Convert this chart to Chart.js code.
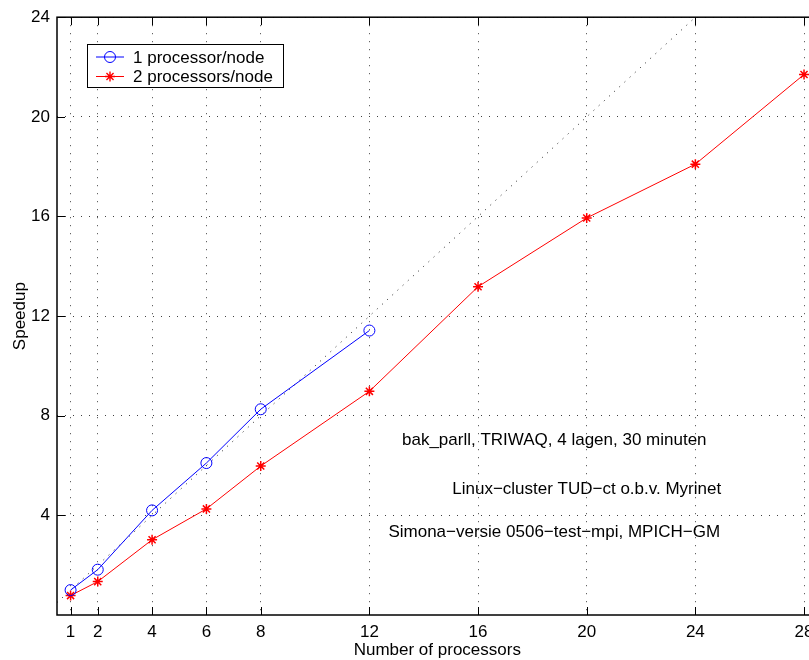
<!DOCTYPE html>
<html>
<head>
<meta charset="utf-8">
<title>Speedup</title>
<script src="https://cdn.jsdelivr.net/npm/chart.js@4.4.1/dist/chart.umd.min.js"></script>
<style>
  html, body { margin: 0; padding: 0; background: #fff; overflow: hidden; }
  #wrap { width: 830px; height: 660px; }
</style>
</head>
<body>
<div id="wrap"><canvas id="speedup" width="830" height="660"></canvas></div>
<script>
// measured speedups
const procs1 = [1, 2, 4, 6, 8, 12];
const speedup1 = [1.0, 1.82, 4.2, 6.1, 8.26, 11.42];
const procs2 = [1, 2, 4, 6, 8, 12, 16, 20, 24, 28];
const speedup2 = [0.78, 1.34, 3.02, 4.26, 5.98, 8.98, 13.18, 15.94, 18.1, 21.7];
// ideal (linear) speedup
const idealX = [0.5, 24];
const idealY = [0.5, 24];

const xTicks = [1, 2, 4, 6, 8, 12, 16, 20, 24, 28];
const yTicks = [4, 8, 12, 16, 20, 24];

const seriesNames = ['1 processor/node', '2 processors/node'];
const notes = [
  { x: 13.2, y: 7.0, text: 'bak_parll, TRIWAQ, 4 lagen, 30 minuten' },
  { x: 15.05, y: 5.05, text: 'Linux\u2212cluster TUD\u2212ct o.b.v. Myrinet' },
  { x: 12.7, y: 3.3, text: 'Simona\u2212versie 0506\u2212test\u2212mpi, MPICH\u2212GM' }
];

const FONT = '"Liberation Sans", Arial, Helvetica, sans-serif';
Chart.defaults.font.family = FONT;
Chart.defaults.font.size = 17;
Chart.defaults.color = '#000';

const toPoints = (xs, ys) => xs.map((x, i) => ({ x: x, y: ys[i] }));

// box, inward ticks, legend, notes and axis titles
const matlabFrame = {
  id: 'matlabFrame',
  afterDraw(chart) {
    const ctx = chart.ctx;
    const a = chart.chartArea;
    const xs = chart.scales.x, ys = chart.scales.y;
    ctx.save();
    ctx.strokeStyle = '#000';
    ctx.lineWidth = 1;
    ctx.beginPath();
    xTicks.forEach(v => {
      const px = Math.round(xs.getPixelForValue(v)) + 0.5;
      ctx.moveTo(px, a.bottom); ctx.lineTo(px, a.bottom - 8);
      ctx.moveTo(px, a.top); ctx.lineTo(px, a.top + 8);
    });
    yTicks.forEach(v => {
      const py = Math.round(ys.getPixelForValue(v)) + 0.5;
      ctx.moveTo(a.left, py); ctx.lineTo(a.left + 8, py);
      ctx.moveTo(a.right, py); ctx.lineTo(a.right - 8, py);
    });
    ctx.stroke();
    ctx.lineWidth = 1.5;
    ctx.strokeRect(a.left, a.top, a.right - a.left, a.bottom - a.top);

    // legend
    const lx = 87, ly = 44.5, lw = 196, lh = 43;
    ctx.fillStyle = '#fff';
    ctx.fillRect(lx, ly, lw, lh);
    ctx.lineWidth = 1;
    ctx.strokeRect(lx + 0.5, ly, lw, lh);
    const rows = [
      { y: 57, color: '#0000ff', marker: 'circle' },
      { y: 76.5, color: '#ff0000', marker: 'star' }
    ];
    rows.forEach((r, i) => {
      ctx.strokeStyle = r.color;
      ctx.lineWidth = 1;
      ctx.beginPath();
      ctx.moveTo(96, r.y); ctx.lineTo(124, r.y);
      ctx.stroke();
      if (r.marker === 'circle') {
        ctx.beginPath();
        ctx.arc(110, r.y, 5.5, 0, Math.PI * 2);
        ctx.stroke();
      } else {
        ctx.lineWidth = 1.4;
        ctx.beginPath();
        for (let k = 0; k < 4; k++) {
          const ang = k * Math.PI / 4;
          ctx.moveTo(110 - 5 * Math.cos(ang), r.y - 5 * Math.sin(ang));
          ctx.lineTo(110 + 5 * Math.cos(ang), r.y + 5 * Math.sin(ang));
        }
        ctx.stroke();
      }
      ctx.fillStyle = '#000';
      ctx.font = '17px ' + FONT;
      ctx.textBaseline = 'middle';
      ctx.textAlign = 'left';
      ctx.fillText(seriesNames[i], 133, r.y + 1);
    });

    // notes in data coordinates
    ctx.fillStyle = '#000';
    ctx.font = '17px ' + FONT;
    ctx.textAlign = 'left';
    ctx.textBaseline = 'middle';
    notes.forEach(n => {
      ctx.fillText(n.text, xs.getPixelForValue(n.x), ys.getPixelForValue(n.y));
    });

    // axis titles
    ctx.textAlign = 'center';
    ctx.fillText('Number of processors', (a.left + a.right) / 2, 650);
    ctx.save();
    ctx.translate(20, (a.top + a.bottom) / 2);
    ctx.rotate(-Math.PI / 2);
    ctx.fillText('Speedup', 0, 0);
    ctx.restore();
    ctx.restore();
  }
};

new Chart(document.getElementById('speedup'), {
  type: 'line',
  data: {
    datasets: [
      {
        label: seriesNames[0],
        data: toPoints(procs1, speedup1),
        borderColor: '#0000ff',
        backgroundColor: 'rgba(0,0,0,0)',
        borderWidth: 1,
        pointStyle: 'circle',
        pointRadius: 5.5,
        pointBorderWidth: 1,
        tension: 0
      },
      {
        label: seriesNames[1],
        data: toPoints(procs2, speedup2),
        borderColor: '#ff0000',
        backgroundColor: '#ff0000',
        borderWidth: 1,
        pointStyle: 'star',
        pointRadius: 5,
        pointBorderWidth: 1.5,
        tension: 0
      },
      {
        label: 'ideal',
        data: toPoints(idealX, idealY),
        borderColor: '#222',
        borderWidth: 1,
        borderDash: [1, 6],
        pointRadius: 0,
        tension: 0
      }
    ]
  },
  options: {
    responsive: false,
    animation: false,
    devicePixelRatio: 1,
    layout: { padding: { top: 15.5, right: 12.4, left: 0, bottom: 0 } },
    plugins: { legend: { display: false }, tooltip: { enabled: false } },
    scales: {
      x: {
        type: 'linear',
        min: 0.5,
        max: 28.5,
        afterBuildTicks: s => { s.ticks = xTicks.map(v => ({ value: v })); },
        afterFit: s => { s.height = 45; },
        ticks: { padding: 7, autoSkip: false, maxRotation: 0, color: '#000' },
        grid: { color: 'rgba(0,0,0,0.75)', lineWidth: 1, drawTicks: false },
        border: { display: false, dash: [1, 7] }
      },
      y: {
        type: 'linear',
        min: 0,
        max: 24,
        afterBuildTicks: s => { s.ticks = yTicks.map(v => ({ value: v })); },
        afterFit: s => { s.width = 57; },
        ticks: { padding: 7, color: '#000' },
        grid: { color: 'rgba(0,0,0,0.75)', lineWidth: 1, drawTicks: false },
        border: { display: false, dash: [1, 7] }
      }
    }
  },
  plugins: [matlabFrame]
});
</script>
</body>
</html>
